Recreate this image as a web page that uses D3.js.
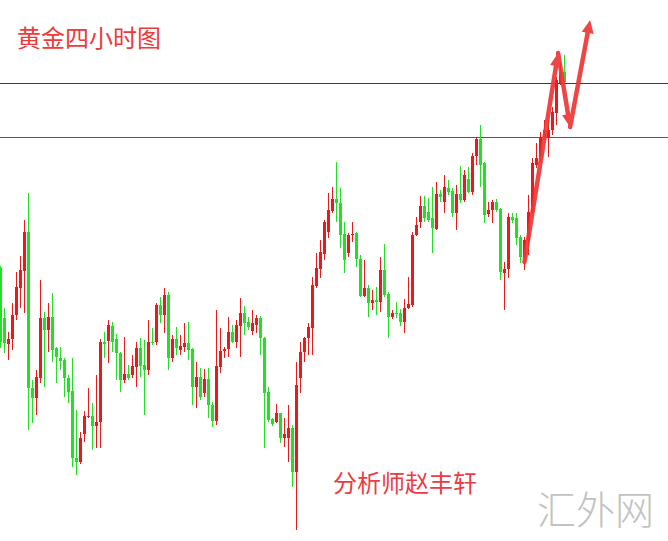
<!DOCTYPE html>
<html>
<head>
<meta charset="utf-8">
<script src="https://cdn.jsdelivr.net/npm/d3@7"></script>
<style>
  html, body { margin: 0; padding: 0; background: #fff; }
  svg { display: block; }
</style>
</head>
<body>
<svg id="chart"></svg>
<script>
const width = 668
const height = 541

// 4 hour gold candles, oldest first
const opens = [1732,1682,1656,1661,1685,1712,1729,1768,1612,1602,
  1622,1682,1670,1683,1652,1642,1640,1622,1609,1542,
  1538,1566,1583,1584,1574,1578,1658,1659,1674,1661,
  1647,1620,1626,1625,1633,1652,1635,1630,1658,1658,
  1695,1685,1705,1642,1661,1650,1653,1657,1651,1613,
  1623,1607,1621,1595,1579,1633,1649,1651,1668,1658,
  1674,1687,1678,1669,1675,1682,1662,1608,1581,1578,
  1587,1562,1562,1572,1528,1622,1648,1662,1672,1714,
  1731,1746,1768,1789,1801,1797,1766,1747,1765,1767,
  1741,1704,1712,1697,1700,1698,1730,1706,1683,1687,
  1687,1678,1692,1695,1765,1778,1794,1788,1782,1771,
  1806,1798,1812,1809,1787,1806,1800,1821,1808,1844,
  1861,1837,1786,1790,1798,1791,1727,1731,1783,1782,
  1763,1743,1760,1788,1835,1843,1862,1863,1870,1887,
  1917,1928]
const highs = [1734,1692,1668,1697,1728,1744,1780,1807,1620,1630,
  1720,1688,1697,1707,1653,1653,1642,1625,1642,1590,
  1568,1589,1612,1597,1625,1661,1668,1680,1678,1666,
  1648,1663,1635,1645,1658,1662,1660,1680,1672,1697,
  1703,1712,1708,1665,1673,1665,1677,1678,1652,1638,
  1632,1631,1632,1598,1690,1672,1653,1683,1675,1680,
  1702,1694,1683,1690,1685,1684,1663,1613,1582,1596,
  1587,1582,1595,1575,1638,1658,1663,1677,1723,1747,
  1760,1780,1807,1813,1838,1812,1778,1767,1778,1768,
  1745,1740,1715,1710,1713,1743,1756,1708,1690,1698,
  1691,1701,1723,1768,1783,1804,1804,1802,1813,1818,
  1810,1825,1820,1812,1815,1834,1830,1833,1847,1862,
  1875,1838,1798,1800,1801,1792,1738,1787,1787,1787,
  1765,1763,1805,1842,1857,1868,1880,1880,1893,1923,
  1937,1945]
const lows = [1652,1647,1640,1650,1680,1692,1687,1570,1577,1585,
  1617,1613,1648,1638,1617,1630,1603,1597,1533,1525,
  1536,1558,1582,1550,1552,1552,1642,1637,1648,1620,
  1608,1617,1620,1622,1613,1623,1585,1625,1655,1655,
  1677,1667,1630,1638,1645,1645,1648,1640,1595,1592,
  1600,1603,1582,1573,1575,1627,1642,1643,1657,1652,
  1643,1665,1670,1665,1667,1645,1552,1578,1574,1577,
  1557,1553,1538,1513,1470,1607,1638,1645,1645,1712,
  1722,1740,1762,1787,1778,1752,1727,1743,1758,1733,
  1703,1703,1683,1690,1685,1688,1703,1662,1681,1682,
  1674,1667,1691,1693,1764,1772,1778,1778,1747,1770,
  1798,1787,1805,1783,1770,1797,1798,1807,1805,1835,
  1813,1777,1783,1777,1788,1720,1690,1722,1777,1755,
  1737,1730,1745,1787,1832,1838,1860,1843,1865,1875,
  1915,1917]
const closes = [1658,1657,1661,1685,1713,1730,1768,1612,1602,1623,
  1682,1670,1683,1650,1643,1639,1622,1608,1542,1538,
  1562,1584,1584,1574,1578,1658,1656,1675,1658,1647,
  1620,1626,1622,1634,1652,1634,1630,1658,1657,1695,
  1685,1705,1642,1661,1652,1654,1657,1650,1613,1623,
  1603,1621,1595,1579,1634,1649,1651,1668,1658,1675,
  1687,1677,1673,1677,1682,1662,1607,1580,1576,1587,
  1562,1566,1572,1528,1615,1648,1662,1673,1715,1732,
  1748,1778,1790,1801,1797,1765,1740,1765,1766,1741,
  1704,1712,1697,1700,1698,1730,1705,1683,1687,1686,
  1678,1692,1696,1765,1775,1794,1782,1780,1772,1806,
  1803,1813,1808,1787,1806,1800,1825,1808,1844,1861,
  1835,1785,1790,1798,1790,1728,1731,1783,1780,1762,
  1743,1760,1788,1837,1842,1862,1870,1870,1888,1920,
  1928,1918]

// horizontal levels
const levels = [
  {price: 1917, color: "#33403f"},
  {price: 1863, color: "#e01e28"}
]

// projected path: [bar index, price]
const arrowPoints = [[131, 1738], [139.4, 1947], [142.4, 1873], [147.4, 1980]]

const titleText = "黄金四小时图"
const authorText = "分析师赵丰轩"
const markText = "汇外网"

const upColor = "#ea1a1a"
const downColor = "#24e024"

let candles = opens.map((o, i) => ({
  i: i, open: o, high: highs[i], low: lows[i], close: closes[i]
}))

let svg = d3.select("#chart")
  .attr("width", width)
  .attr("height", height)

let x = d3.scaleLinear().domain([0, 167]).range([0.5, 668.5])
let y = d3.scaleLinear().domain([2000, 1459]).range([0, 541])

// level lines
svg.append("g")
  .attr("shape-rendering", "crispEdges")
  .selectAll("line")
  .data(levels)
  .enter()
  .append("line")
  .attr("x1", 0)
  .attr("x2", width)
  .attr("y1", d => Math.round(y(d.price)) + 0.5)
  .attr("y2", d => Math.round(y(d.price)) + 0.5)
  .style("stroke", d => d.color)
  .attr("stroke-width", 1)

let candle = svg.append("g")
  .selectAll("g")
  .data(candles)
  .enter()
  .append("g")

candle.append("line")
  .attr("x1", d => x(d.i))
  .attr("x2", d => x(d.i))
  .attr("y1", d => y(d.high))
  .attr("y2", d => y(d.low))
  .attr("stroke", d => d.close > d.open ? upColor : downColor)
  .attr("stroke-width", 1)

candle.append("rect")
  .attr("x", d => x(d.i) - 1.5)
  .attr("width", 3)
  .attr("y", d => y(Math.max(d.open, d.close)))
  .attr("height", d => Math.max(1, Math.abs(y(d.open) - y(d.close))))
  .attr("fill", d => d.close > d.open ? upColor : downColor)

// arrows
let arrowG = svg.append("g")
  .attr("fill", "#f03636")
  .attr("stroke", "#f03636")
  .attr("opacity", 0.92)

for (let k = 0; k < arrowPoints.length - 1; k++) {
  let x0 = x(arrowPoints[k][0]), y0 = y(arrowPoints[k][1])
  let x1 = x(arrowPoints[k + 1][0]), y1 = y(arrowPoints[k + 1][1])
  let len = Math.hypot(x1 - x0, y1 - y0)
  let ux = (x1 - x0) / len, uy = (y1 - y0) / len
  let headLen = 13, headW = 6
  let bx = x1 - ux * headLen, by = y1 - uy * headLen
  arrowG.append("line")
    .attr("x1", x0).attr("y1", y0)
    .attr("x2", bx).attr("y2", by)
    .attr("stroke-width", 4.5)
    .attr("stroke-linecap", "round")
  arrowG.append("polygon")
    .attr("stroke", "none")
    .attr("points", [
      [x1, y1],
      [bx - uy * headW, by + ux * headW],
      [bx + uy * headW, by - ux * headW]
    ].map(p => p.join(",")).join(" "))
}

svg.append("text")
  .attr("x", 17)
  .attr("y", 47)
  .attr("font-family", "'Noto Sans CJK SC', sans-serif")
  .attr("font-size", "24px")
  .attr("fill", "#ee3a3a")
  .text(titleText)

svg.append("text")
  .attr("x", 333)
  .attr("y", 492)
  .attr("font-family", "'Noto Sans CJK SC', sans-serif")
  .attr("font-size", "24px")
  .attr("fill", "#ee3a44")
  .text(authorText)

svg.append("text")
  .attr("x", 537)
  .attr("y", 524)
  .attr("font-family", "'Noto Sans CJK SC', sans-serif")
  .attr("font-size", "39px")
  .attr("font-weight", 300)
  .attr("fill", "#c2c2c2")
  .text(markText)
</script>
</body>
</html>
